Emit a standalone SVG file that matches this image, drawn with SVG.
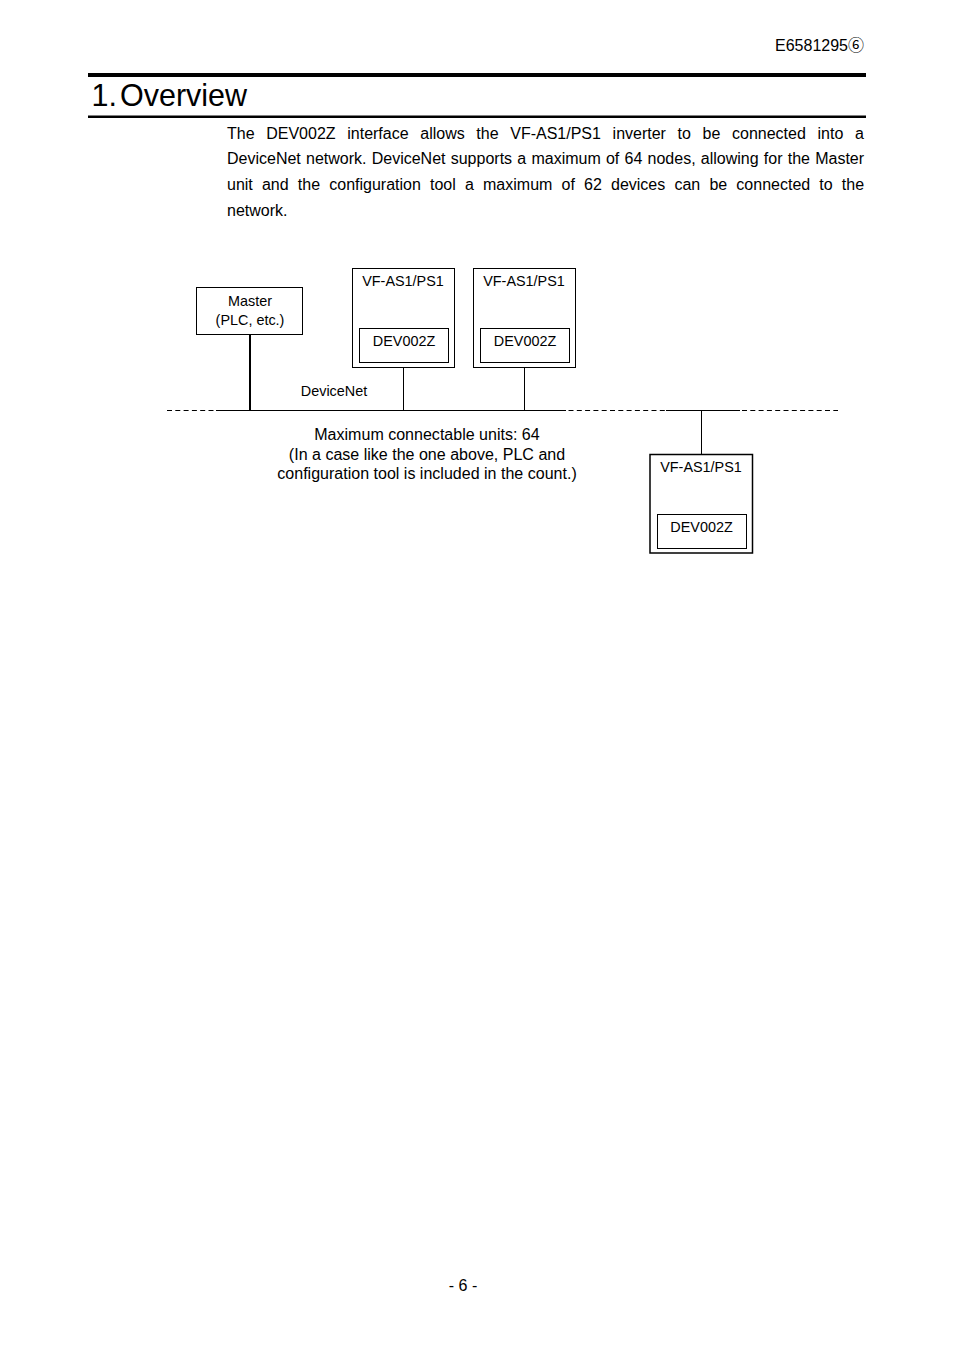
<svg xmlns="http://www.w3.org/2000/svg" width="954" height="1350" viewBox="0 0 954 1350">
<style>
text{font-family:"Liberation Sans",Arial,"Noto Sans CJK JP",sans-serif;fill:#000}
.s{font-size:14.4px;text-anchor:middle}
.b{font-size:16px}
.m{font-size:16.05px;text-anchor:middle}
.box{fill:#fff;stroke:#000;stroke-width:1}
.l{stroke:#000;stroke-width:1;fill:none}
.d{stroke-dasharray:5 3.300}
</style>
<rect width="954" height="1350" fill="#fff"/>
<text x="864" y="51" font-size="16" text-anchor="end">E6581295⑥</text>
<rect x="88" y="73" width="778" height="4" fill="#000"/>
<rect x="88" y="115.500" width="778" height="2.500" fill="#000"/>
<text x="91.500" y="106" font-size="30.500">1.</text>
<text x="120" y="106" font-size="30.500">Overview</text>
<g id="body">
<text class="b" x="227" y="139" word-spacing="7.200">The DEV002Z interface allows the VF-AS1/PS1 inverter to be connected into a</text>
<text class="b" x="227" y="164" word-spacing="0.770">DeviceNet network. DeviceNet supports a maximum of 64 nodes, allowing for the Master</text>
<text class="b" x="227" y="190" word-spacing="4.720">unit and the configuration tool a maximum of 62 devices can be connected to the</text>
<text class="b" x="227" y="216">network.</text>
</g>
<g id="connectors">
<path class="l d" d="M167 410.500H215"/>
<path class="l" d="M216 410.500H566"/>
<path class="l d" d="M568.500 410.500H666"/>
<path class="l" d="M666 410.500H740"/>
<path class="l d" d="M742 410.500H838"/>
<path class="l" style="stroke-width:2" d="M250 334V410"/>
<path class="l" d="M403.500 367V410M524.500 367V410M701.500 410V454"/>
</g>
<g id="master">
<rect class="box" x="196.500" y="287.500" width="106" height="47"/>
<text class="s" x="250" y="306">Master</text>
<text class="s" x="250" y="325">(PLC, etc.)</text>
</g>
<g id="inverter1">
<rect class="box" x="352.500" y="268.500" width="102" height="99"/>
<text class="s" x="403" y="286">VF-AS1/PS1</text>
<rect class="box" x="359.500" y="328.500" width="89" height="34"/>
<text class="s" x="404" y="346">DEV002Z</text>
</g>
<g id="inverter2">
<rect class="box" x="473.500" y="268.500" width="102" height="99"/>
<text class="s" x="524" y="286">VF-AS1/PS1</text>
<rect class="box" x="480.500" y="328.500" width="89" height="34"/>
<text class="s" x="525" y="346">DEV002Z</text>
</g>
<g id="inverter3">
<rect class="box" style="stroke-width:1.500" x="650" y="454.500" width="102.500" height="98.500"/>
<text class="s" x="701" y="472">VF-AS1/PS1</text>
<rect class="box" x="657.500" y="514.500" width="89" height="34"/>
<text class="s" x="701.500" y="532">DEV002Z</text>
</g>
<text class="s" x="334" y="396">DeviceNet</text>
<text class="m" x="427" y="440">Maximum connectable units: 64</text>
<text class="m" x="427" y="460">(In a case like the one above, PLC and</text>
<text class="m" x="427" y="479">configuration tool is included in the count.)</text>
<text class="m" x="463" y="1291">- 6 -</text>
</svg>
